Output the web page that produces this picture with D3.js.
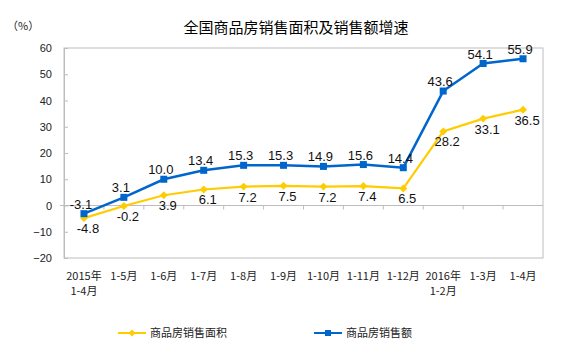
<!DOCTYPE html>
<html>
<head>
<meta charset="utf-8">
<script src="https://cdn.jsdelivr.net/npm/d3@7"></script>
<style>
  body { margin: 0; background: #fff; }
  text { font-family: "Liberation Sans", Arial, sans-serif; }
</style>
</head>
<body>
<div id="chart"></div>
<script>
    // data
    var months = ["2015年\n1-4月", "1-5月", "1-6月", "1-7月", "1-8月", "1-9月", "1-10月", "1-11月", "1-12月", "2016年\n1-2月", "1-3月", "1-4月"];
    var areaGrowth = [-4.8, -0.2, 3.9, 6.1, 7.2, 7.5, 7.2, 7.4, 6.5, 28.2, 33.1, 36.5];
    var salesGrowth = [-3.1, 3.1, 10.0, 13.4, 15.3, 15.3, 14.9, 15.6, 14.4, 43.6, 54.1, 55.9];
    var yTicks = [-20, -10, 0, 10, 20, 30, 40, 50, 60];
    var seriesNames = ["商品房销售面积", "商品房销售额"];

    var margin = {top: 48, right: 21, bottom: 94, left: 64},
    width = 564 - margin.left - margin.right,
    height = 352 - margin.top - margin.bottom;

    var root = d3.select("#chart").append("svg")
    .attr("width", 564)
    .attr("height", 352);

    var svg = root.append("g")
    .attr("transform", "translate(" + margin.left + "," + margin.top + ")");

    var x_scale = d3.scaleBand()
    .domain(months)
    .range([0, width]);

    var y_scale = d3.scaleLinear()
    .domain([-20, 60])
    .range([height, 0]);

    var cx = function(i) { return x_scale(months[i]) + x_scale.bandwidth() / 2; };

    // title
    root.append("text")
    .attr("x", 296).attr("y", 33)
    .attr("text-anchor", "middle")
    .style("font-family", "'Noto Sans CJK SC', sans-serif")
    .style("font-size", "15px")
    .text("全国商品房销售面积及销售额增速");

    root.append("text")
    .attr("x", 7).attr("y", 30)
    .style("font-family", "'Noto Sans CJK SC', sans-serif")
    .style("font-size", "11px")
    .attr("fill", "#222")
    .text("（%）");

    // plot border
    svg.append("rect")
    .attr("width", width).attr("height", height)
    .attr("fill", "none")
    .attr("stroke", "#bdbdbd");

    // y axis
    var yAxis = svg.append("g")
    .call(d3.axisLeft(y_scale).tickValues(yTicks).tickSize(-4).tickPadding(12));
    yAxis.select(".domain").attr("stroke", "#bdbdbd");
    yAxis.selectAll("line").attr("stroke", "#bdbdbd");
    yAxis.selectAll("text").style("font-size", "11px").attr("fill", "#222")
    .style("font-family", "'Liberation Sans', Arial, sans-serif");

    // x axis on zero line
    svg.append("line")
    .attr("x1", -4).attr("x2", width)
    .attr("y1", y_scale(0)).attr("y2", y_scale(0))
    .attr("stroke", "#bdbdbd");
    svg.append("g").selectAll("line")
    .data(months.slice(1))
    .enter().append("line")
    .attr("x1", function(d) { return x_scale(d); })
    .attr("x2", function(d) { return x_scale(d); })
    .attr("y1", y_scale(0)).attr("y2", y_scale(0) + 4)
    .attr("stroke", "#bdbdbd");

    // category labels at bottom
    var cat = svg.append("g").selectAll("text")
    .data(months)
    .enter().append("text")
    .attr("text-anchor", "middle")
    .attr("fill", "#222")
    .style("font-family", "'Noto Sans CJK SC', sans-serif")
    .style("font-size", "11px")
    .attr("transform", function(d) { return "translate(" + (x_scale(d) + x_scale.bandwidth() / 2) + "," + (height + 22) + ")"; });
    cat.selectAll("tspan")
    .data(function(d) { return d.split("\n"); })
    .enter().append("tspan")
    .attr("x", 0)
    .attr("dy", function(d, i) { return i ? 15 : 0; })
    .text(function(d) { return d; });

    var line = d3.line()
    .x(function(d, i) { return cx(i); })
    .y(function(d) { return y_scale(d); });

    // yellow series
    svg.append("path")
    .datum(areaGrowth)
    .attr("fill", "none")
    .attr("stroke", "#FFCC00")
    .attr("stroke-width", 2.2)
    .attr("d", line);

    svg.selectAll(".dia")
    .data(areaGrowth)
    .enter().append("path")
    .attr("class", "dia")
    .attr("fill", "#FFCC00")
    .attr("d", d3.symbol().type(d3.symbolDiamond2).size(40))
    .attr("transform", function(d, i) { return "translate(" + cx(i) + "," + y_scale(d) + ")"; });

    // blue series
    svg.append("path")
    .datum(salesGrowth)
    .attr("fill", "none")
    .attr("stroke", "#0066CC")
    .attr("stroke-width", 2.5)
    .attr("d", line);

    svg.selectAll(".sq")
    .data(salesGrowth)
    .enter().append("rect")
    .attr("class", "sq")
    .attr("fill", "#0066CC")
    .attr("width", 7).attr("height", 7)
    .attr("x", function(d, i) { return cx(i) - 3.5; })
    .attr("y", function(d) { return y_scale(d) - 3.5; });

    // value labels
    svg.selectAll(".lblA")
    .data(areaGrowth)
    .enter().append("text")
    .attr("class", "lblA")
    .attr("text-anchor", "middle")
    .style("font-size", "13px")
    .attr("fill", "#111")
    .attr("x", function(d, i) { return cx(i) + 4; })
    .attr("y", function(d) { return y_scale(d) + 15; })
    .text(function(d) { return d.toFixed(1); });

    svg.selectAll(".lblS")
    .data(salesGrowth)
    .enter().append("text")
    .attr("class", "lblS")
    .attr("text-anchor", "middle")
    .style("font-size", "13px")
    .attr("fill", "#111")
    .attr("x", function(d, i) { return cx(i) - 3; })
    .attr("y", function(d) { return y_scale(d) - 5; })
    .text(function(d) { return d.toFixed(1); });

    // legend
    var legend = root.append("g");
    var legendColors = ["#FFCC00", "#0066CC"];
    var legendX = [118, 314];
    seriesNames.forEach(function(name, i) {
        var g = legend.append("g").attr("transform", "translate(" + legendX[i] + ",333)");
        g.append("line").attr("x1", 0).attr("x2", 28)
        .attr("stroke", legendColors[i]).attr("stroke-width", 2);
        if (i == 0) {
            g.append("path").attr("fill", legendColors[i])
            .attr("d", d3.symbol().type(d3.symbolDiamond2).size(30))
            .attr("transform", "translate(14,0)");
        } else {
            g.append("rect").attr("fill", legendColors[i])
            .attr("x", 11).attr("y", -3).attr("width", 6).attr("height", 6);
        }
        g.append("text").attr("x", 32).attr("y", 4)
        .style("font-family", "'Noto Sans CJK SC', sans-serif")
        .style("font-size", "11px")
        .attr("fill", "#222")
        .text(name);
    });
</script>
</body>
</html>
